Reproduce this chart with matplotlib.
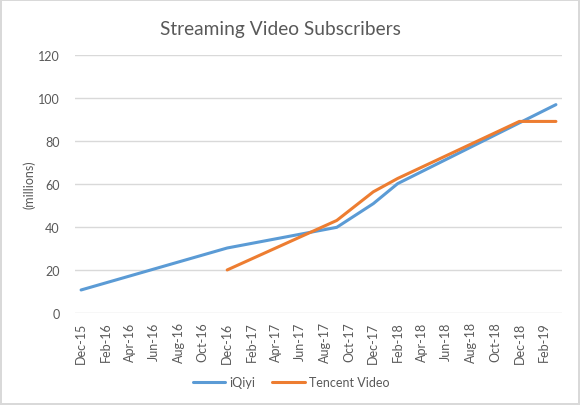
import numpy as np
import pandas as pd
import matplotlib
matplotlib.use('Agg')
import matplotlib.pyplot as plt

# axis categories: one per month, Dec-15 .. Mar-19
months = [d.strftime('%b-%y') for d in pd.date_range('2015-12-01', '2019-03-01', freq='MS')]
tick_labels = months[::2]

iqiyi_months = ['Dec-15', 'Dec-16', 'Sep-17', 'Dec-17', 'Feb-18', 'Mar-19']
iqiyi_values = [10.7, 30.2, 39.8, 50.8, 60.1, 96.8]

tencent_months = ['Dec-16', 'Sep-17', 'Dec-17', 'Feb-18', 'Dec-18', 'Mar-19']
tencent_values = [20.0, 43.0, 56.3, 62.5, 89.0, 89.0]

plt.rcParams['font.family'] = ['Lato', 'DejaVu Sans']
grey = '#595959'
fs = 9

fig = plt.figure(figsize=(5.8, 4.06), dpi=100)
fig.patch.set_edgecolor('#D9D9D9')
fig.patch.set_linewidth(1.5)
ax = fig.add_axes([75 / 580, 1 - 314 / 406, (562 - 75) / 580, (314 - 55.7) / 406])

pos = {m: i for i, m in enumerate(months)}
ax.plot([pos[m] for m in iqiyi_months], iqiyi_values, color='#5B9BD5', lw=2.2,
        label='iQiyi', solid_capstyle='round', zorder=3)
ax.plot([pos[m] for m in tencent_months], tencent_values, color='#ED7D31', lw=2.2,
        label='Tencent Video', solid_capstyle='round', zorder=3)

ax.set_xlim(-0.5, len(months) - 0.5)
ax.set_ylim(0, 120)
ax.set_yticks(np.arange(0, 121, 20))
ax.set_xticks(np.arange(0, len(months), 2))
ax.set_xticklabels(tick_labels, rotation=90, fontsize=fs, color=grey)
ax.tick_params(axis='y', labelsize=fs, labelcolor=grey, length=0, pad=11)
ax.tick_params(axis='x', length=0, pad=6)
ax.grid(axis='y', color='#D9D9D9', lw=1)
ax.set_axisbelow(True)
for s in ax.spines.values():
    s.set_visible(False)

ax.set_ylabel('(millions)', fontsize=fs, color=grey, labelpad=2)
fig.text(280.5 / 580, 1 - 29.6 / 406, 'Streaming Video Subscribers', fontsize=13.8,
         color=grey, ha='center', va='center')

fig.legend(loc='center', bbox_to_anchor=(291 / 580, 1 - 383 / 406), ncol=2, frameon=False,
           fontsize=fs, labelcolor=grey, handlelength=2.6, columnspacing=1.4, handletextpad=0.3)

fig.savefig('out.png', dpi=100, edgecolor=fig.get_edgecolor())
